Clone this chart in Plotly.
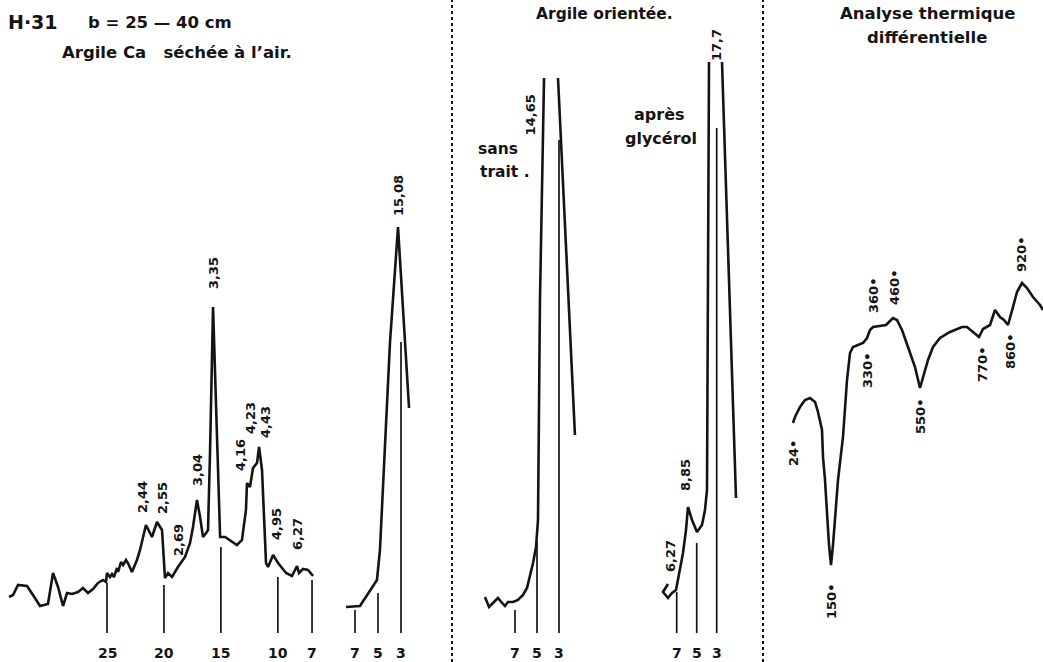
import plotly.graph_objects as go

FONT = "DejaVu Sans"
INK = "#141414"

# ---------------- Panel 1 : Argile Ca séchée à l'air (large angles) ----------------
p1_angle = [33.60, 33.25, 32.81, 32.02, 31.50, 30.88, 30.18, 29.74, 29.30, 28.86,
            28.51, 28.07, 27.55, 27.11, 26.67, 26.23, 25.79, 25.35, 25.09, 25.00,
            24.74, 24.56, 24.39, 24.12, 24.03, 23.77, 23.59, 23.33, 23.16, 22.81,
            22.37, 22.10, 21.58, 21.05, 20.61, 20.17, 19.91, 19.64, 19.29, 19.03,
            18.77, 18.15, 17.71, 17.45, 17.10, 16.83, 16.57, 16.30, 16.13, 15.95,
            15.69, 15.07, 14.63, 13.59, 13.15, 12.80, 12.71, 12.45, 12.27, 12.18,
            11.83, 11.65, 11.39, 11.04, 10.86, 10.42, 9.98, 9.28, 8.76, 8.32,
            8.14, 7.79, 7.35, 6.91]
p1_int = [53, 55, 65, 64, 55, 44, 46, 77, 63, 44,
          57, 56, 58, 62, 57, 61, 67, 70, 68, 77,
          73, 76, 73, 82, 78, 88, 85, 90, 87, 78,
          90, 100, 125, 113, 128, 120, 72, 77, 73, 78,
          83, 93, 107, 123, 150, 133, 113, 117, 120, 200,
          343, 113, 113, 105, 110, 140, 167, 163, 175, 182,
          187, 203, 180, 87, 83, 95, 87, 77, 74, 84,
          77, 81, 80, 74]
p1_ticks = [25, 20, 15, 10, 7]
p1_stick_top = [67, 65, 103, 73, 70]
p1_labels = ["2,44", "2,55", "2,69", "3,04", "3,35", "4,16", "4,23", "4,43", "4,95", "6,27"]
p1_label_x = [21.93, 20.17, 18.77, 17.10, 15.69, 13.32, 12.45, 11.13, 10.16, 8.32]
p1_label_y = [153, 152, 110, 180, 377, 195, 232, 228, 126, 116]

# ---------------- Panel 2 : Argile Ca séchée à l'air (small angles) ----------------
p2_angle = [7.78, 6.57, 5.43, 5.09, 4.83, 4.57, 3.96, 3.26, 2.30]
p2_int = [43, 44, 64, 70, 100, 160, 307, 423, 242]
p2_ticks = [7, 5, 3]
p2_stick_top = [40, 57, 308]
p2_labels = ["15,08"]
p2_label_x = [3.26]
p2_label_y = [454]

# ---------------- Panel 3 : Argile orientée, sans traitement ----------------
p3_rise_angle = [9.73, 9.36, 8.91, 8.55, 8.18, 7.91, 7.64, 7.18, 6.73, 6.27,
                 5.91, 5.64, 5.36, 5.09, 4.91, 4.73, 4.36]
p3_rise_int = [53, 43, 48, 52, 47, 44, 48, 48, 50, 55,
               62, 73, 87, 103, 130, 350, 572]
p3_fall_angle = [3.09, 1.55]
p3_fall_int = [572, 215]
p3_ticks = [7, 5, 3]
p3_stick_top = [40, 108, 510]
p3_labels = ["14,65"]
p3_label_x = [5.60]
p3_label_y = [535]

# ---------------- Panel 4 : Argile orientée, après glycérol ----------------
p4_rise_angle = [7.87, 8.37, 7.87, 7.47, 7.07, 6.67, 6.37, 6.07, 5.87, 5.47,
                 4.97, 4.47, 4.17, 3.97, 3.77]
p4_rise_int = [66, 58, 52, 57, 60, 80, 97, 120, 143, 130,
               118, 125, 140, 160, 588]
p4_fall_angle = [2.47, 1.07]
p4_fall_int = [588, 152]
p4_ticks = [7, 5, 3]
p4_stick_top = [58, 107, 522]
p4_labels = ["17,7", "8,85", "6,27"]
p4_label_x = [3.07, 6.17, 7.67]
p4_label_y = [605, 175, 94]

# ---------------- Panel 5 : Analyse thermique différentielle ----------------
dta_pos = [13, 15, 20, 25, 30, 35, 38, 42, 43, 45, 49, 51, 53, 58, 63, 67, 70,
           73, 78, 83, 87, 90, 93, 100, 106, 110, 113, 117, 122, 128, 135, 140,
           143, 148, 153, 160, 170, 182, 187, 193, 199, 203, 207, 210, 215, 220,
           224, 228, 233, 237, 242, 247, 253, 260, 263]
dta_signal = [227, 233, 243, 250, 252, 248, 238, 220, 193, 170, 105, 85, 105, 170,
              213, 270, 297, 303, 305, 307, 312, 320, 323, 324, 325, 329, 332, 330,
              320, 303, 283, 262, 273, 290, 303, 312, 318, 323, 323, 318, 313, 321,
              323, 325, 340, 333, 330, 325, 343, 358, 367, 362, 353, 345, 340]
dta_labels = ["24•", "150•", "330•", "360•", "460•", "550•", "770•", "860•", "920•"]
dta_label_x = [13, 51, 87, 93, 114, 140, 202, 230, 241]
dta_label_y = [197, 48, 279, 354, 362, 233, 285, 298, 395]

STICK_BASE = 17
TICK_LABEL_Y = -3

fig = go.Figure()


def add_line(xs, ys, xaxis, width=2.6):
    fig.add_trace(go.Scatter(x=xs, y=ys, xaxis=xaxis, yaxis="y", mode="lines",
                             line=dict(color=INK, width=width),
                             hoverinfo="skip", showlegend=False))


def add_sticks(pos, tops, xaxis):
    xs, ys = [], []
    for p, t in zip(pos, tops):
        xs += [p, p, None]
        ys += [STICK_BASE, t, None]
    fig.add_trace(go.Scatter(x=xs, y=ys, xaxis=xaxis, yaxis="y", mode="lines",
                             line=dict(color=INK, width=1.7),
                             hoverinfo="skip", showlegend=False))


def add_peak_labels(texts, xs, ys, xref, size=13):
    for t, x, y in zip(texts, xs, ys):
        fig.add_annotation(text=t, x=x, y=y, xref=xref, yref="y", showarrow=False,
                           textangle=-90, xanchor="center", yanchor="middle",
                           font=dict(family=FONT, size=size, color=INK, weight="bold"))


def add_tick_labels(ticks, xref):
    for t in ticks:
        fig.add_annotation(text=str(t), x=t, y=TICK_LABEL_Y, xref=xref, yref="y",
                           showarrow=False, xanchor="center", yanchor="middle",
                           font=dict(family=FONT, size=14, color=INK, weight="bold"))


# panel 1
add_line(p1_angle, p1_int, "x")
add_sticks(p1_ticks, p1_stick_top, "x")
add_peak_labels(p1_labels, p1_label_x, p1_label_y, "x")
add_tick_labels(p1_ticks, "x")
# panel 2
add_line(p2_angle, p2_int, "x2")
add_sticks(p2_ticks, p2_stick_top, "x2")
add_peak_labels(p2_labels, p2_label_x, p2_label_y, "x2")
add_tick_labels(p2_ticks, "x2")
# panel 3
add_line(p3_rise_angle, p3_rise_int, "x3")
add_line(p3_fall_angle, p3_fall_int, "x3")
add_sticks(p3_ticks, p3_stick_top, "x3")
add_peak_labels(p3_labels, p3_label_x, p3_label_y, "x3")
add_tick_labels(p3_ticks, "x3")
# panel 4
add_line(p4_rise_angle, p4_rise_int, "x4")
add_line(p4_fall_angle, p4_fall_int, "x4")
add_sticks(p4_ticks, p4_stick_top, "x4")
add_peak_labels(p4_labels, p4_label_x, p4_label_y, "x4")
add_tick_labels(p4_ticks, "x4")
# panel 5
add_line(dta_pos, dta_signal, "x5")
add_peak_labels(dta_labels, dta_label_x, dta_label_y, "x5")

W, H = 1043, 662
hidden = dict(visible=False, showgrid=False, zeroline=False, fixedrange=True)
fig.update_layout(
    width=W, height=H,
    margin=dict(l=0, r=0, t=0, b=0),
    paper_bgcolor="white", plot_bgcolor="white",
    showlegend=False,
    xaxis=dict(domain=[0, 320 / W], range=[34.394, 6.30], anchor="y", **hidden),
    xaxis2=dict(domain=[330 / W, 440 / W], range=[9.174, -0.391], anchor="y", **hidden),
    xaxis3=dict(domain=[470 / W, 600 / W], range=[11.091, -0.727], anchor="y", **hidden),
    xaxis4=dict(domain=[640 / W, 760 / W], range=[10.67, -1.33], anchor="y", **hidden),
    xaxis5=dict(domain=[780 / W, 1], range=[0, 263], anchor="y", **hidden),
    yaxis=dict(domain=[0, 1], range=[-12, 650], anchor="x", **hidden),
)

# panel separators (dotted)
for xp in [452 / W, 763 / W]:
    fig.add_shape(type="line", xref="paper", yref="paper", x0=xp, x1=xp, y0=0, y1=1,
                  line=dict(color=INK, width=2, dash="dot"))


def paper_text(text, x, y, size, weight="bold", xanchor="left"):
    fig.add_annotation(text=text, x=x / W, y=1 - y / H, xref="paper", yref="paper",
                       showarrow=False, xanchor=xanchor, yanchor="middle",
                       font=dict(family=FONT, size=size, color=INK, weight=weight))


paper_text("H·31", 6, 22, 19)
paper_text("b = 25 — 40 cm", 86, 22, 16.5)
paper_text("Argile Ca   séchée à l’air.", 60, 52, 16.5)
paper_text("Argile orientée.", 604, 14, 15.5, xanchor="center")
paper_text("Analyse thermique", 927, 13, 16.5, xanchor="center")
paper_text("différentielle", 927, 37, 16.5, xanchor="center")
paper_text("sans", 476, 149, 15.5)
paper_text("trait .", 478, 172, 15.5)
paper_text("après", 659, 114, 16, xanchor="center")
paper_text("glycérol", 661, 139, 16, xanchor="center")

fig.write_html("out.html", config={"displayModeBar": False},
               post_script="document.body.style.margin='0';document.body.style.padding='0';")
